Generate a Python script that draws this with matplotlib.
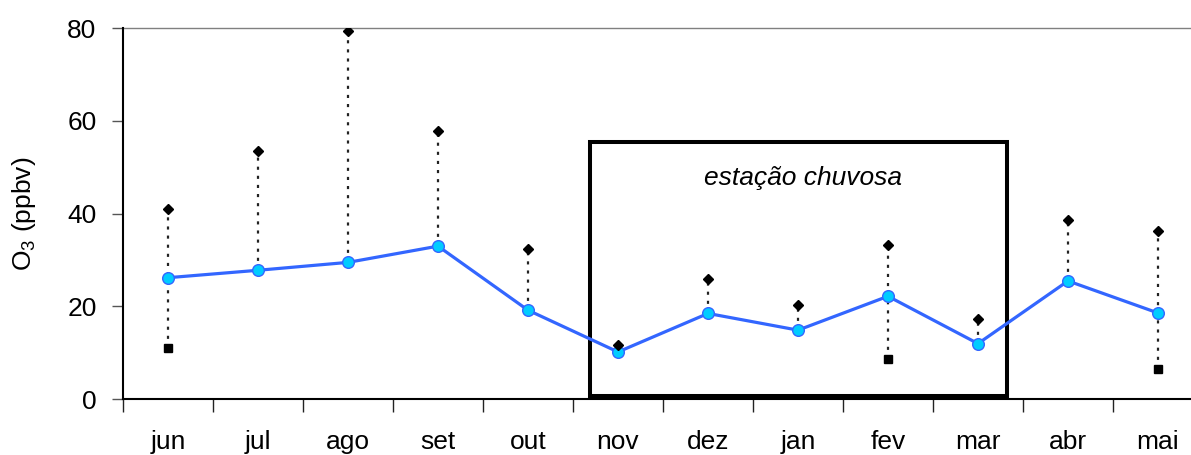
import numpy as np
import matplotlib
matplotlib.use("Agg")
import matplotlib.pyplot as plt
from matplotlib.patches import Rectangle

plt.rcParams["font.family"] = ["Liberation Sans", "DejaVu Sans"]
plt.rcParams["mathtext.fontset"] = "custom"
plt.rcParams["mathtext.rm"] = "Liberation Sans"

# Monthly ozone statistics (ppbv)
months = ["jun", "jul", "ago", "set", "out", "nov", "dez", "jan", "fev", "mar", "abr", "mai"]
o3_mean = [26.2, 27.8, 29.5, 33.0, 19.2, 10.2, 18.5, 14.9, 22.2, 12.0, 25.5, 18.6]
o3_max = [41.1, 53.4, 79.4, 57.7, 32.3, 11.8, 26.0, 20.3, 33.2, 17.4, 38.6, 36.3]
o3_min = [11.0, np.nan, np.nan, np.nan, np.nan, np.nan, np.nan, np.nan, 8.7, np.nan, np.nan, 6.5]

# Rainy-season window (month index range and O3 range)
rainy_x = (4.69, 9.32)
rainy_y = (0.7, 55.4)
rainy_label = "estação chuvosa"

W, H = 1191, 455
FS = 19
fig = plt.figure(figsize=(W / 100, H / 100), dpi=100)
ax = fig.add_axes([123 / W, 55.7 / H, 1080 / W, 371.3 / H])

x = np.arange(len(months))
mean = np.array(o3_mean)
hi = np.array(o3_max)
lo = np.fmin(mean, np.array(o3_min))

# high-low dotted lines
ax.vlines(x, lo, hi, colors="#222222", linewidth=1.6,
          linestyles=(0, (1.4, 2.7)), zorder=2)

# rainy season box
ax.add_patch(Rectangle((rainy_x[0], rainy_y[0]), rainy_x[1] - rainy_x[0],
                       rainy_y[1] - rainy_y[0], fill=False, edgecolor="black",
                       linewidth=2.9, zorder=1.5))
ax.text((rainy_x[0] + rainy_x[1]) / 2 + 0.05, 46.1, rainy_label, style="italic",
        fontsize=FS, ha="center", va="baseline", zorder=5)

# mean line
ax.plot(x, mean, color="#3366FF", linewidth=2.3, marker="o", markersize=8.4,
        markerfacecolor="#00CCFF", markeredgecolor="#3366FF", markeredgewidth=1.0,
        zorder=3)
ax.plot(x, hi, linestyle="none", marker="D", markersize=5.6, color="black", zorder=4)
ax.plot(x, o3_min, linestyle="none", marker="s", markersize=6.2, color="black", zorder=4)

# top reference line
ax.axhline(80, color="#808080", linewidth=1.0, zorder=1, clip_on=False)

ax.set_xlim(-0.5, 11.5)
ax.set_ylim(0, 80)

ax.set_xticks(x)
ax.set_xticklabels(months, fontsize=FS)
ax.set_xticks(np.arange(-0.5, 12, 1), minor=True)
ax.tick_params(axis="x", which="major", length=0, pad=22)
ax.tick_params(axis="x", which="minor", length=9, width=1.0, color="#222222", direction="out")

ax.set_yticks([0, 20, 40, 60, 80])
ax.tick_params(axis="y", which="major", length=8, width=1.0, color="#555555",
               direction="out", labelsize=FS, pad=11)

for side in ("top", "right"):
    ax.spines[side].set_visible(False)
ax.spines["left"].set_linewidth(1.5)
ax.spines["bottom"].set_linewidth(1.5)
ax.spines["left"].set_color("black")
ax.spines["bottom"].set_color("black")

ax.set_ylabel(r"O$_\mathregular{3}$ (ppbv)", fontsize=FS)
ax.yaxis.set_label_coords(-0.079, 0.5)

fig.savefig("out.png", dpi=100)
